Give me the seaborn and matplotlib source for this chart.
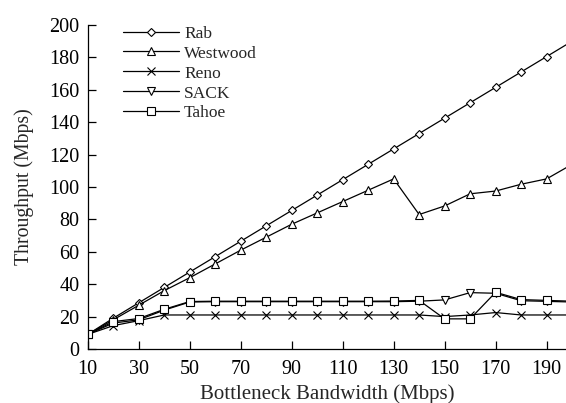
import matplotlib
matplotlib.use("Agg")
import matplotlib.pyplot as plt
import seaborn as sns
import pandas as pd

bandwidth = [10, 20, 30, 40, 50, 60, 70, 80, 90, 100, 110, 120, 130, 140, 150, 160, 170, 180, 190, 200]
rab = [9, 19, 28.5, 38, 47.5, 57, 66.5, 76, 85.5, 95, 104.5, 114, 123.5, 133, 142.5, 152, 161.5, 171, 180.5, 190]
westwood = [9, 18, 27, 36, 44, 52.5, 61, 69, 77, 84, 91, 98, 105, 83, 88.3, 95.8, 97.5, 101.7, 105, 114]
reno = [9, 14.4, 17.5, 21, 21, 21, 21, 21, 21, 21, 21, 21, 21, 21, 20, 21, 22.5, 21, 21, 21]
sack = [9, 16, 18, 24, 29, 29.2, 29.2, 29.2, 29.2, 29.2, 29.2, 29.2, 29.2, 29.5, 30.3, 34.8, 34.4, 29.8, 29.4, 29]
tahoe = [9, 16.9, 18.8, 24.5, 29.3, 29.5, 29.5, 29.5, 29.5, 29.5, 29.5, 29.5, 29.6, 30, 18.6, 18.6, 35, 30.5, 30, 29.5]

series = ["Rab", "Westwood", "Reno", "SACK", "Tahoe"]
values = [rab, westwood, reno, sack, tahoe]
markers = ["D", "^", "x", "v", "s"]
msizes = [4.5, 6, 6, 6, 5.5]

sns.set_style("ticks")
plt.rcParams["font.family"] = ["Liberation Serif", "DejaVu Serif"]

fig = plt.figure(figsize=(5.66, 4.03), dpi=100)
ax = fig.add_axes([0.155, 0.134, 0.845, 0.804])

for name, vals, mk, ms in zip(series, values, markers, msizes):
    df = pd.DataFrame({"bw": bandwidth, "tp": vals})
    sns.lineplot(data=df, x="bw", y="tp", ax=ax, color="black", linewidth=0.9,
                 marker=mk, markersize=ms, markerfacecolor="white",
                 markeredgecolor="black", markeredgewidth=0.8, label=name,
                 clip_on=True)

ax.set_xlim(10, 197.6)
ax.set_ylim(0, 200)
ax.set_xticks(range(10, 200, 20))
ax.set_yticks(range(0, 201, 20))
ax.tick_params(direction="in", length=6, width=0.9, labelsize=14.5, colors="black")
ax.tick_params(axis="y", pad=6)
ax.tick_params(axis="x", pad=8)
for side in ["top", "right"]:
    ax.spines[side].set_visible(False)
for side in ["left", "bottom"]:
    ax.spines[side].set_linewidth(0.9)
    ax.spines[side].set_color("black")

ax.set_xlabel("Bottleneck Bandwidth (Mbps)", fontsize=15, labelpad=4)
ax.set_ylabel("Throughput (Mbps)", fontsize=14.2, labelpad=11)

leg = ax.legend(loc="upper left", bbox_to_anchor=(0.06, 1.02), frameon=False,
                fontsize=12.5, handlelength=3.2, handletextpad=0.3,
                labelspacing=0.22, borderaxespad=0)

fig.savefig("out.png", dpi=100)
